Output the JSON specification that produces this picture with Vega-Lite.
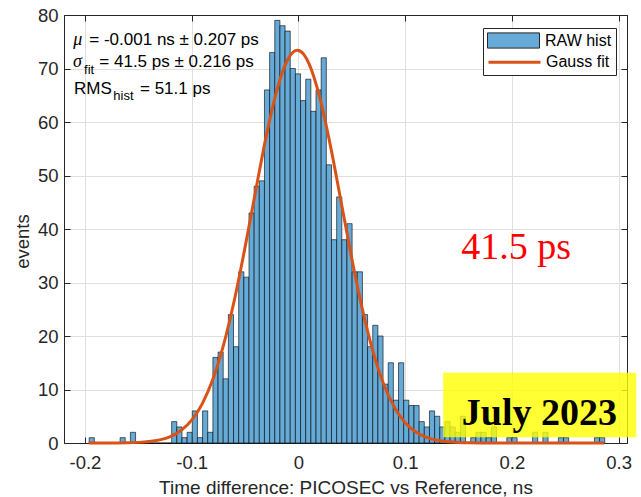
{
 "$schema": "https://vega.github.io/schema/vega-lite/v6.json",
 "width": 563,
 "height": 428,
 "autosize": {"type": "none"},
 "padding": {"left": 64, "top": 15, "right": 14, "bottom": 54},
 "background": "white",
 "config": {
  "font": "Liberation Sans",
  "view": {"stroke": "#262626", "strokeWidth": 1}
 },
 "datasets": {
  "hist": [
   {"lo": -0.1965, "hi": -0.19167, "n": 1}, {"lo": -0.19167, "hi": -0.18684, "n": 0}, {"lo": -0.18684, "hi": -0.18201, "n": 0}, {"lo": -0.18201, "hi": -0.17718, "n": 0}, {"lo": -0.17718, "hi": -0.17235, "n": 0},
   {"lo": -0.17235, "hi": -0.16752, "n": 0}, {"lo": -0.16752, "hi": -0.16269, "n": 1}, {"lo": -0.16269, "hi": -0.15786, "n": 0}, {"lo": -0.15786, "hi": -0.15303, "n": 2}, {"lo": -0.15303, "hi": -0.1482, "n": 0},
   {"lo": -0.1482, "hi": -0.14337, "n": 0}, {"lo": -0.14337, "hi": -0.13854, "n": 0}, {"lo": -0.13854, "hi": -0.13371, "n": 0}, {"lo": -0.13371, "hi": -0.12888, "n": 0}, {"lo": -0.12888, "hi": -0.12405, "n": 0},
   {"lo": -0.12405, "hi": -0.11922, "n": 0}, {"lo": -0.11922, "hi": -0.11439, "n": 4}, {"lo": -0.11439, "hi": -0.10956, "n": 3}, {"lo": -0.10956, "hi": -0.10473, "n": 1}, {"lo": -0.10473, "hi": -0.0999, "n": 2},
   {"lo": -0.0999, "hi": -0.09507, "n": 6}, {"lo": -0.09507, "hi": -0.09024, "n": 1}, {"lo": -0.09024, "hi": -0.08541, "n": 6}, {"lo": -0.08541, "hi": -0.08058, "n": 2}, {"lo": -0.08058, "hi": -0.07575, "n": 16},
   {"lo": -0.07575, "hi": -0.07092, "n": 17}, {"lo": -0.07092, "hi": -0.06609, "n": 12}, {"lo": -0.06609, "hi": -0.06126, "n": 24}, {"lo": -0.06126, "hi": -0.05643, "n": 18}, {"lo": -0.05643, "hi": -0.0516, "n": 32},
   {"lo": -0.0516, "hi": -0.04677, "n": 31}, {"lo": -0.04677, "hi": -0.04194, "n": 43}, {"lo": -0.04194, "hi": -0.03711, "n": 48}, {"lo": -0.03711, "hi": -0.03228, "n": 49}, {"lo": -0.03228, "hi": -0.02745, "n": 66},
   {"lo": -0.02745, "hi": -0.02262, "n": 73}, {"lo": -0.02262, "hi": -0.01779, "n": 79}, {"lo": -0.01779, "hi": -0.01296, "n": 78}, {"lo": -0.01296, "hi": -0.00813, "n": 77}, {"lo": -0.00813, "hi": -0.0033, "n": 70},
   {"lo": -0.0033, "hi": 0.00153, "n": 69}, {"lo": 0.00153, "hi": 0.00636, "n": 64}, {"lo": 0.00636, "hi": 0.01119, "n": 68}, {"lo": 0.01119, "hi": 0.01602, "n": 62}, {"lo": 0.01602, "hi": 0.02085, "n": 66},
   {"lo": 0.02085, "hi": 0.02568, "n": 72}, {"lo": 0.02568, "hi": 0.03051, "n": 52}, {"lo": 0.03051, "hi": 0.03534, "n": 38}, {"lo": 0.03534, "hi": 0.04017, "n": 46}, {"lo": 0.04017, "hi": 0.045, "n": 38},
   {"lo": 0.045, "hi": 0.04983, "n": 41}, {"lo": 0.04983, "hi": 0.05466, "n": 32}, {"lo": 0.05466, "hi": 0.05949, "n": 32}, {"lo": 0.05949, "hi": 0.06432, "n": 24}, {"lo": 0.06432, "hi": 0.06915, "n": 18},
   {"lo": 0.06915, "hi": 0.07398, "n": 22}, {"lo": 0.07398, "hi": 0.07881, "n": 20}, {"lo": 0.07881, "hi": 0.08364, "n": 11}, {"lo": 0.08364, "hi": 0.08847, "n": 15}, {"lo": 0.08847, "hi": 0.0933, "n": 8},
   {"lo": 0.0933, "hi": 0.09813, "n": 15}, {"lo": 0.09813, "hi": 0.10296, "n": 8}, {"lo": 0.10296, "hi": 0.10779, "n": 7}, {"lo": 0.10779, "hi": 0.11262, "n": 7}, {"lo": 0.11262, "hi": 0.11745, "n": 4},
   {"lo": 0.11745, "hi": 0.12228, "n": 3}, {"lo": 0.12228, "hi": 0.12711, "n": 6}, {"lo": 0.12711, "hi": 0.13194, "n": 5}, {"lo": 0.13194, "hi": 0.13677, "n": 3}, {"lo": 0.13677, "hi": 0.1416, "n": 4},
   {"lo": 0.1416, "hi": 0.14643, "n": 3}, {"lo": 0.14643, "hi": 0.15126, "n": 2}, {"lo": 0.15126, "hi": 0.15609, "n": 5}, {"lo": 0.15609, "hi": 0.16092, "n": 0}, {"lo": 0.16092, "hi": 0.16575, "n": 1},
   {"lo": 0.16575, "hi": 0.17058, "n": 2}, {"lo": 0.17058, "hi": 0.17541, "n": 2}, {"lo": 0.17541, "hi": 0.18024, "n": 1}, {"lo": 0.18024, "hi": 0.18507, "n": 3}, {"lo": 0.18507, "hi": 0.1899, "n": 0},
   {"lo": 0.1899, "hi": 0.19473, "n": 0}, {"lo": 0.19473, "hi": 0.19956, "n": 1}, {"lo": 0.19956, "hi": 0.20439, "n": 1}, {"lo": 0.20439, "hi": 0.20922, "n": 0}, {"lo": 0.20922, "hi": 0.21405, "n": 0},
   {"lo": 0.21405, "hi": 0.21888, "n": 0}, {"lo": 0.21888, "hi": 0.22371, "n": 2}, {"lo": 0.22371, "hi": 0.22854, "n": 0}, {"lo": 0.22854, "hi": 0.23337, "n": 2}, {"lo": 0.23337, "hi": 0.2382, "n": 0},
   {"lo": 0.2382, "hi": 0.24303, "n": 0}, {"lo": 0.24303, "hi": 0.24786, "n": 1}, {"lo": 0.24786, "hi": 0.25269, "n": 1}, {"lo": 0.25269, "hi": 0.25752, "n": 0}, {"lo": 0.25752, "hi": 0.26235, "n": 0},
   {"lo": 0.26235, "hi": 0.26718, "n": 0}, {"lo": 0.26718, "hi": 0.27201, "n": 0}, {"lo": 0.27201, "hi": 0.27684, "n": 0}, {"lo": 0.27684, "hi": 0.28167, "n": 1}, {"lo": 0.28167, "hi": 0.2865, "n": 1}
  ],
  "fit": [
   {"x": -0.1965, "g": 0.001}, {"x": -0.18, "g": 0.007}, {"x": -0.17, "g": 0.018}, {"x": -0.16, "g": 0.048}, {"x": -0.15, "g": 0.117},
   {"x": -0.14, "g": 0.269}, {"x": -0.13, "g": 0.585}, {"x": -0.12, "g": 1.203}, {"x": -0.11, "g": 2.332}, {"x": -0.1, "g": 4.265},
   {"x": -0.09, "g": 7.363}, {"x": -0.08, "g": 11.99}, {"x": -0.07, "g": 18.43}, {"x": -0.06, "g": 26.72}, {"x": -0.05, "g": 36.56},
   {"x": -0.04, "g": 47.2}, {"x": -0.03, "g": 57.5}, {"x": -0.02, "g": 66.1}, {"x": -0.01, "g": 71.69}, {"x": -0.005, "g": 73.06},
   {"x": -0.001, "g": 73.4}, {"x": 0.005, "g": 72.64}, {"x": 0.01, "g": 70.87}, {"x": 0.02, "g": 64.58}, {"x": 0.03, "g": 55.53},
   {"x": 0.04, "g": 45.06}, {"x": 0.05, "g": 34.5}, {"x": 0.06, "g": 24.92}, {"x": 0.07, "g": 16.99}, {"x": 0.08, "g": 10.93},
   {"x": 0.09, "g": 6.632}, {"x": 0.1, "g": 3.798}, {"x": 0.11, "g": 2.052}, {"x": 0.12, "g": 1.047}, {"x": 0.13, "g": 0.504},
   {"x": 0.14, "g": 0.229}, {"x": 0.15, "g": 0.098}, {"x": 0.16, "g": 0.04}, {"x": 0.17, "g": 0.015}, {"x": 0.18, "g": 0.005},
   {"x": 0.2, "g": 0.0005}, {"x": 0.24, "g": 0}, {"x": 0.2865, "g": 0}
  ],
  "greek": [
   {"x": -0.2109, "y": 74.39, "t": "μ"},
   {"x": -0.2112, "y": 70.34, "t": "σ"}
  ],
  "stats": [
   {"x": -0.1959, "y": 74.39, "t": "= -0.001 ns ± 0.207 ps"},
   {"x": -0.1865, "y": 70.34, "t": "= 41.5 ps ± 0.216 ps"},
   {"x": -0.2102, "y": 65.18, "t": "RMS"},
   {"x": -0.1484, "y": 65.18, "t": "= 51.1 ps"}
  ],
  "subs": [
   {"x": -0.2008, "y": 68.97, "t": "fit"},
   {"x": -0.1734, "y": 64.11, "t": "hist"}
  ],
  "big": [
   {"x": 0.1525, "y": 34.4, "t": "41.5 ps"}
  ],
  "box": [
   {"x": 0.1356, "x2": 0.3165, "y": 1.07, "y2": 13.14}
  ],
  "date": [
   {"x": 0.1531, "y": 3.36, "t": "July 2023"}
  ]
 },
 "resolve": {"axis": {"x": "independent", "y": "independent"}},
 "layer": [
  {
   "data": {"name": "hist"},
   "mark": {"type": "bar", "binSpacing": 0, "stroke": "#000000", "strokeWidth": 0.8, "strokeOpacity": 0.75},
   "encoding": {
    "x": {
     "field": "lo", "type": "quantitative", "bin": {"binned": true},
     "scale": {"domain": [-0.2196, 0.3078], "nice": false, "zero": false},
     "axis": {
      "orient": "bottom", "values": [-0.2, -0.1, 0, 0.1, 0.2, 0.3],
      "labelExpr": "datum.value == 0 ? '0' : (datum.value < 0 ? '-' + format(-datum.value, '.1f') : format(datum.value, '.1f'))",
      "title": "Time difference: PICOSEC vs Reference, ns",
      "titleFontSize": 19, "titleFontWeight": "normal", "titleColor": "#262626", "titleFont": "Liberation Sans",
      "titleY": 50, "titleBaseline": "alphabetic",
      "labelFontSize": 18.5, "labelColor": "#262626", "labelFont": "Liberation Sans",
      "tickSize": -6, "tickColor": "#262626", "domainColor": "#262626", "labelPadding": 16,
      "grid": true, "gridColor": "#dfdfdf", "gridWidth": 1
     }
    },
    "x2": {"field": "hi"},
    "y": {
     "field": "n", "type": "quantitative",
     "scale": {"domain": [0, 80], "nice": false},
     "axis": {
      "orient": "left", "values": [0, 10, 20, 30, 40, 50, 60, 70, 80],
      "title": "events", "titleFontSize": 18.5, "titleFontWeight": "normal", "titleColor": "#262626", "titleFont": "Liberation Sans",
      "titleX": -36, "titleY": 226, "titleBaseline": "alphabetic",
      "labelFontSize": 18.5, "labelColor": "#262626", "labelFont": "Liberation Sans",
      "tickSize": -6, "tickColor": "#262626", "domainColor": "#262626", "labelPadding": 12,
      "grid": true, "gridColor": "#dfdfdf", "gridWidth": 1
     }
    },
    "fill": {
     "datum": "RAW hist",
     "scale": {"domain": ["RAW hist"], "range": ["#66aad7"]},
     "legend": {
      "title": " ", "titleOrient": "bottom", "titleFontSize": 16, "titlePadding": 4.8,
      "orient": "none", "legendX": 419, "legendY": 13, "direction": "vertical",
      "padding": 4,
      "strokeColor": "#262626", "fillColor": "white",
      "labelFont": "Liberation Sans", "labelFontSize": 16, "labelColor": "#000000", "labelOffset": 41,
      "symbolSize": 256, "symbolType": "M-1,-0.95H5.5V0.95H-1Z",
      "symbolStrokeColor": "#262626", "symbolStrokeWidth": 1, "symbolOpacity": 1
     }
    }
   }
  },
  {
   "data": {"name": "fit"},
   "mark": {"type": "line", "strokeWidth": 3, "interpolate": "monotone"},
   "encoding": {
    "x": {
     "field": "x", "type": "quantitative",
     "axis": {"orient": "top", "labels": false, "title": null, "grid": false, "values": [-0.2, -0.1, 0, 0.1, 0.2, 0.3], "tickSize": -6, "tickColor": "#262626", "domainColor": "#262626"}
    },
    "y": {
     "field": "g", "type": "quantitative",
     "axis": {"orient": "right", "labels": false, "title": null, "grid": false, "values": [0, 10, 20, 30, 40, 50, 60, 70, 80], "tickSize": -6, "tickColor": "#262626", "domainColor": "#262626"}
    },
    "stroke": {
     "datum": "Gauss fit",
     "scale": {"domain": ["Gauss fit"], "range": ["#D95319"]},
     "legend": {
      "title": null, "orient": "none", "legendX": 419, "legendY": 33.8, "direction": "vertical",
      "padding": 4,
      "labelFont": "Liberation Sans", "labelFontSize": 16, "labelColor": "#000000", "labelOffset": 40,
      "symbolSize": 256, "symbolType": "M-1,0H5.5", "symbolStrokeWidth": 3
     }
    }
   }
  },
  {
   "data": {"name": "box"},
   "mark": {"type": "rect", "fill": "#ffff00", "opacity": 0.8},
   "encoding": {
    "x": {"field": "x", "type": "quantitative", "axis": null},
    "x2": {"field": "x2"},
    "y": {"field": "y", "type": "quantitative", "axis": null},
    "y2": {"field": "y2"}
   }
  },
  {
   "data": {"name": "date"},
   "mark": {"type": "text", "align": "left", "baseline": "alphabetic", "font": "Liberation Serif", "fontWeight": "bold", "fontSize": 38, "color": "#000000"},
   "encoding": {
    "x": {"field": "x", "type": "quantitative", "axis": null},
    "y": {"field": "y", "type": "quantitative", "axis": null},
    "text": {"field": "t"}
   }
  },
  {
   "data": {"name": "big"},
   "mark": {"type": "text", "align": "left", "baseline": "alphabetic", "font": "Liberation Serif", "fontSize": 38, "color": "#ff0000"},
   "encoding": {
    "x": {"field": "x", "type": "quantitative", "axis": null},
    "y": {"field": "y", "type": "quantitative", "axis": null},
    "text": {"field": "t"}
   }
  },
  {
   "data": {"name": "greek"},
   "mark": {"type": "text", "align": "left", "baseline": "alphabetic", "font": "Liberation Serif", "fontStyle": "italic", "fontSize": 18, "color": "#000000"},
   "encoding": {
    "x": {"field": "x", "type": "quantitative", "axis": null},
    "y": {"field": "y", "type": "quantitative", "axis": null},
    "text": {"field": "t"}
   }
  },
  {
   "data": {"name": "stats"},
   "mark": {"type": "text", "align": "left", "baseline": "alphabetic", "font": "Liberation Sans", "fontSize": 17, "color": "#000000"},
   "encoding": {
    "x": {"field": "x", "type": "quantitative", "axis": null},
    "y": {"field": "y", "type": "quantitative", "axis": null},
    "text": {"field": "t"}
   }
  },
  {
   "data": {"name": "subs"},
   "mark": {"type": "text", "align": "left", "baseline": "alphabetic", "font": "Liberation Sans", "fontSize": 13, "color": "#000000"},
   "encoding": {
    "x": {"field": "x", "type": "quantitative", "axis": null},
    "y": {"field": "y", "type": "quantitative", "axis": null},
    "text": {"field": "t"}
   }
  }
 ]
}
